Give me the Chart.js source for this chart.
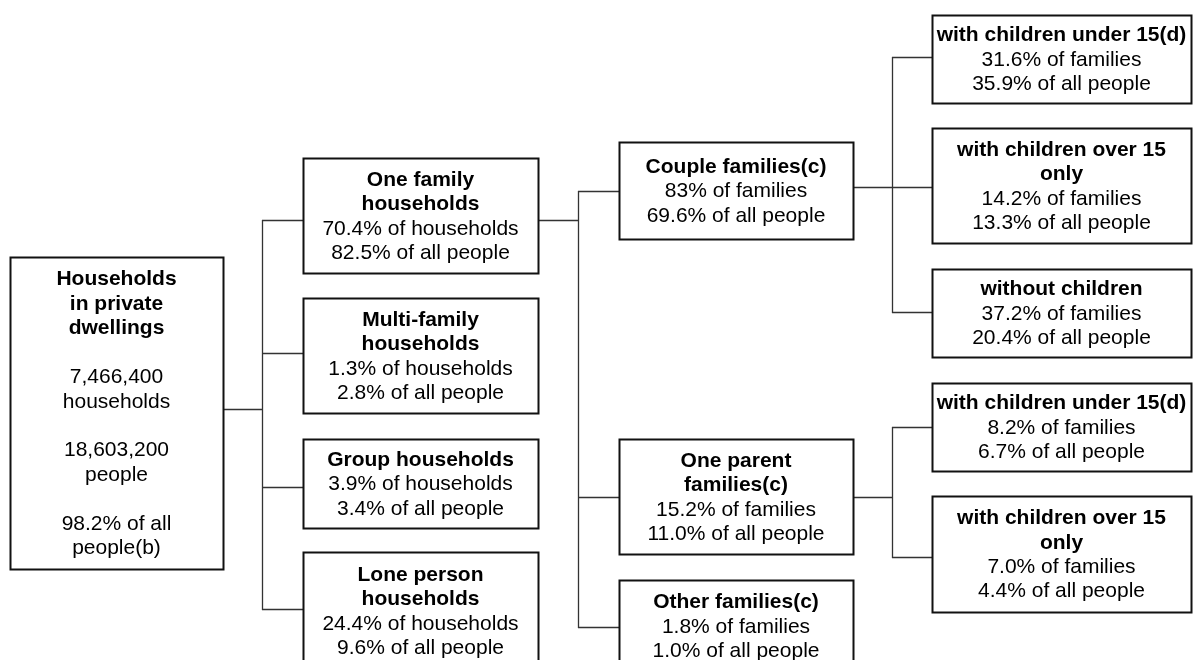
<!DOCTYPE html>
<html>
<head>
<meta charset="utf-8">
<script src="https://cdn.jsdelivr.net/npm/chart.js@4/dist/chart.umd.min.js"></script>
<style>
  html, body { margin: 0; padding: 0; background: #ffffff; }
  #wrap { width: 1193px; height: 660px; }
</style>
</head>
<body>
<div id="wrap"><canvas id="c" width="1193" height="660"></canvas></div>
<script>
// ---------------- DATA ----------------
const rootTitle = ['Households', 'in private', 'dwellings'];
const rootHouseholds = 7466400;
const rootPeople = 18603200;
const rootPctPeople = '98.2';

const householdTypes = ['One family\nhouseholds', 'Multi-family\nhouseholds', 'Group households', 'Lone person\nhouseholds'];
const householdPct = ['70.4', '1.3', '3.9', '24.4'];
const householdPeoplePct = ['82.5', '2.8', '3.4', '9.6'];

const familyTypes = ['Couple families(c)', 'One parent\nfamilies(c)', 'Other families(c)'];
const familyPct = ['83', '15.2', '1.8'];
const familyPeoplePct = ['69.6', '11.0', '1.0'];

const coupleSubtypes = ['with children under 15(d)', 'with children over 15\nonly', 'without children'];
const coupleSubPct = ['31.6', '14.2', '37.2'];
const coupleSubPeoplePct = ['35.9', '13.3', '20.4'];

const parentSubtypes = ['with children under 15(d)', 'with children over 15\nonly'];
const parentSubPct = ['8.2', '7.0'];
const parentSubPeoplePct = ['6.7', '4.4'];

// ---------------- LAYOUT (diagram geometry, in axis units) ----------------
const colRoot = { x0: 10, x1: 223 };
const colHH = { x0: 303, x1: 538 };
const colFam = { x0: 619, x1: 853 };
const colSub = { x0: 932, x1: 1191 };
const busX = [262, 578, 892];
const rootRows = { y0: 257, y1: 569, outY: 409 };
const hhRows = [
  { y0: 158, y1: 273, inY: 220, outY: 220 },
  { y0: 298, y1: 413, inY: 353 },
  { y0: 439, y1: 528, inY: 487 },
  { y0: 552, y1: 669, inY: 609 }
];
const famRows = [
  { y0: 142, y1: 239, inY: 191, outY: 187 },
  { y0: 439, y1: 554, inY: 497, outY: 497 },
  { y0: 580, y1: 672, inY: 627 }
];
const coupleRows = [
  { y0: 15, y1: 103, inY: 57 },
  { y0: 128, y1: 243, inY: 187 },
  { y0: 269, y1: 357, inY: 312 }
];
const parentRows = [
  { y0: 383, y1: 471, inY: 427 },
  { y0: 496, y1: 612, inY: 557 }
];

// ---------------- BUILD NODES ----------------
function lines(name) { return name.split('\n').map(t => ({ t, b: true })); }
const nodes = [];
nodes.push({
  col: colRoot, row: rootRows,
  text: [
    ...rootTitle.map(t => ({ t, b: true })),
    { t: '' },
    { t: rootHouseholds.toLocaleString('en-US') }, { t: 'households' },
    { t: '' },
    { t: rootPeople.toLocaleString('en-US') }, { t: 'people' },
    { t: '' },
    { t: rootPctPeople + '% of all' }, { t: 'people(b)' }
  ]
});
householdTypes.forEach((n, i) => nodes.push({
  col: colHH, row: hhRows[i],
  text: [...lines(n), { t: householdPct[i] + '% of households' }, { t: householdPeoplePct[i] + '% of all people' }]
}));
familyTypes.forEach((n, i) => nodes.push({
  col: colFam, row: famRows[i],
  text: [...lines(n), { t: familyPct[i] + '% of families' }, { t: familyPeoplePct[i] + '% of all people' }]
}));
coupleSubtypes.forEach((n, i) => nodes.push({
  col: colSub, row: coupleRows[i],
  text: [...lines(n), { t: coupleSubPct[i] + '% of families' }, { t: coupleSubPeoplePct[i] + '% of all people' }]
}));
parentSubtypes.forEach((n, i) => nodes.push({
  col: colSub, row: parentRows[i],
  text: [...lines(n), { t: parentSubPct[i] + '% of families' }, { t: parentSubPeoplePct[i] + '% of all people' }]
}));

// connectors: [parentRightX, parentOutY, busX, childLeftX, childInYs]
const links = [
  { px: colRoot.x1, py: rootRows.outY, bx: busX[0], cx: colHH.x0, cys: hhRows.map(r => r.inY) },
  { px: colHH.x1, py: hhRows[0].outY, bx: busX[1], cx: colFam.x0, cys: famRows.map(r => r.inY) },
  { px: colFam.x1, py: famRows[0].outY, bx: busX[2], cx: colSub.x0, cys: coupleRows.map(r => r.inY) },
  { px: colFam.x1, py: famRows[1].outY, bx: busX[2], cx: colSub.x0, cys: parentRows.map(r => r.inY) }
];

const FONT = '"Liberation Sans", Arial, Helvetica, sans-serif';
const FS = 21;
const LH = 24.45;

const treePlugin = {
  id: 'tree',
  afterDatasetsDraw(chart) {
    const ctx = chart.ctx;
    const X = v => chart.scales.x.getPixelForValue(v);
    const Y = v => chart.scales.y.getPixelForValue(v);
    ctx.save();
    // connectors
    ctx.strokeStyle = '#333333';
    ctx.lineWidth = 1.3;
    links.forEach(l => {
      const ys = l.cys.concat([l.py]);
      const top = Math.min(...ys), bot = Math.max(...ys);
      ctx.beginPath();
      ctx.moveTo(X(l.px), Y(l.py) + 0.5); ctx.lineTo(X(l.bx), Y(l.py) + 0.5);
      ctx.moveTo(X(l.bx) + 0.5, Y(top)); ctx.lineTo(X(l.bx) + 0.5, Y(bot) + 1);
      l.cys.forEach(cy => { ctx.moveTo(X(l.bx), Y(cy) + 0.5); ctx.lineTo(X(l.cx), Y(cy) + 0.5); });
      ctx.stroke();
    });
    // boxes
    nodes.forEach(n => {
      const x0 = X(n.col.x0), x1 = X(n.col.x1), y0 = Y(n.row.y0), y1 = Y(n.row.y1);
      ctx.fillStyle = '#ffffff';
      ctx.fillRect(x0, y0, x1 - x0, y1 - y0);
      ctx.strokeStyle = '#111111';
      ctx.lineWidth = 2;
      ctx.strokeRect(x0 + 0.5, y0 + 0.5, x1 - x0, y1 - y0);
      const cx = (x0 + x1) / 2, cy = (y0 + y1) / 2;
      ctx.textAlign = 'center';
      ctx.textBaseline = 'middle';
      ctx.fillStyle = '#000000';
      const k = n.text.length;
      n.text.forEach((ln, i) => {
        if (!ln.t) return;
        ctx.font = (ln.b ? 'bold ' : '') + FS + 'px ' + FONT;
        ctx.fillText(ln.t, cx, cy + (i - (k - 1) / 2) * LH + 1);
      });
    });
    ctx.restore();
  }
};

new Chart(document.getElementById('c'), {
  type: 'scatter',
  data: {
    datasets: [{
      data: nodes.map(n => ({ x: (n.col.x0 + n.col.x1) / 2, y: (n.row.y0 + n.row.y1) / 2 })),
      pointRadius: 0,
      showLine: false
    }]
  },
  options: {
    responsive: false,
    animation: false,
    layout: { padding: 0 },
    plugins: { legend: { display: false }, tooltip: { enabled: false }, title: { display: false } },
    scales: {
      x: { type: 'linear', min: 0, max: 1193, display: false },
      y: { type: 'linear', min: 0, max: 660, reverse: true, display: false }
    }
  },
  plugins: [treePlugin]
});
</script>
</body>
</html>
